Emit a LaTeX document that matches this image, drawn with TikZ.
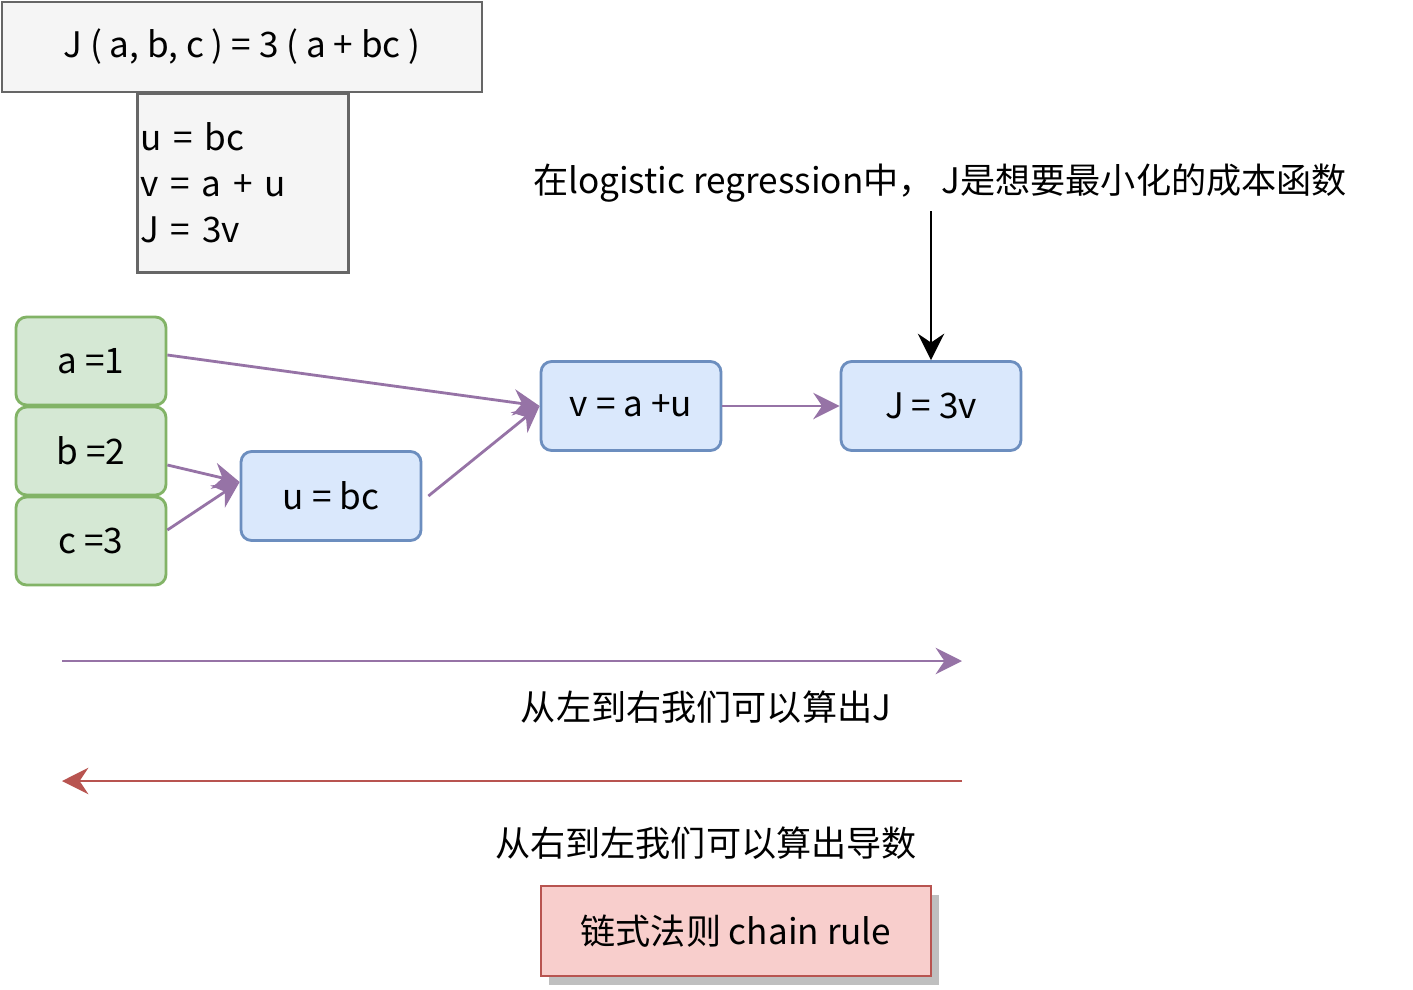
\documentclass[tikz,border=0pt]{standalone}
\usepackage{fontspec}
\setmainfont{Noto Sans CJK SC}
\usepackage{xcolor}
\usepackage{tikz}
\usetikzlibrary{arrows.meta, positioning, shadows}
\definecolor{boxGray}{HTML}{F5F5F5}
\definecolor{lineGray}{HTML}{666666}
\definecolor{leafGreen}{HTML}{D5E8D4}
\definecolor{leafEdge}{HTML}{82B366}
\definecolor{opBlue}{HTML}{DAE8FC}
\definecolor{opEdge}{HTML}{6C8EBF}
\definecolor{flowPurple}{HTML}{9673A6}
\definecolor{ruleRed}{HTML}{F8CECC}
\definecolor{ruleEdge}{HTML}{B85450}

\begin{document}
\begin{tikzpicture}[x=0.02cm, y=-0.02cm,
  every node/.style={font=\fontsize{20}{26}\selectfont},
  note/.style={rectangle, draw=lineGray, fill=boxGray, line width=1.6pt, inner sep=0pt},
  leaf/.style={rectangle, rounded corners=6pt, draw=leafEdge, fill=leafGreen,
               line width=1.6pt, minimum width=3.0cm, minimum height=1.76cm},
  op/.style={rectangle, rounded corners=6pt, draw=opEdge, fill=opBlue,
             line width=1.6pt, minimum width=3.6cm, minimum height=1.78cm},
  tip/.style={-{Stealth[length=15pt, width=15pt, inset=5pt]}, line width=1.6pt},
  arr/.style={tip, draw=flowPurple}
]
\useasboundingbox (0,0) rectangle (1413,990);
% formula boxes
\node[note, minimum width=9.6cm, minimum height=1.8cm] (func) at (242,47)
  {J ( a, b, c ) = 3 ( a + bc )};
\node[note, minimum width=4.2cm, minimum height=3.58cm, anchor=north west,
      align=left, text width=4.1cm, inner xsep=0.06cm] (steps) at (136,92)
  {u = bc\\v = a + u\\J = 3v};
% inputs
\node[leaf] (a) at (91,361) {a =1};
\node[leaf] (b) at (91,451) {b =2};
\node[leaf] (c) at (91,541) {c =3};
% operations
\node[op] (u) at (331,496) {u = bc};
\node[op] (v) at (631,406) {v = a +u};
\node[op] (J) at (931,406) {J = 3v};
\draw[arr] ([yshift=0.12cm]a.east) -- (v.west);
\draw[arr] ([yshift=-0.28cm]b.east) -- ([yshift=0.28cm]u.west);
\draw[arr] ([yshift=0.22cm]c.east) -- ([yshift=0.28cm]u.west);
\draw[arr] ([xshift=0.12cm]u.east) -- (v.west);
\draw[arr] (v) -- (J);
% cost note
\node (cost) at (940,183) {在logistic regression中，\ J是想要最小化的成本函数};
\coordinate (costEnd) at (931,211);
\draw[tip] (costEnd) -- (J.north);
% directions
\coordinate (fwdStart) at (62,661);
\coordinate (fwdEnd) at (962,661);
\draw[arr] (fwdStart) -- (fwdEnd);
\node (fwd) at (706,707) {从左到右我们可以算出J};
\coordinate (bwdStart) at (962,781);
\coordinate (bwdEnd) at (62,781);
\draw[arr, draw=ruleEdge] (bwdStart) -- (bwdEnd);
\node (bwd) at (706,843) {从右到左我们可以算出导数};
\node[rectangle, draw=ruleEdge, fill=ruleRed, line width=1.6pt,
      minimum width=7.8cm, minimum height=1.8cm,
      drop shadow={shadow xshift=0.16cm, shadow yshift=-0.18cm, fill=black!25, opacity=1}]
  (rule) at (736,931) {链式法则 chain rule};
\end{tikzpicture}
\end{document}
